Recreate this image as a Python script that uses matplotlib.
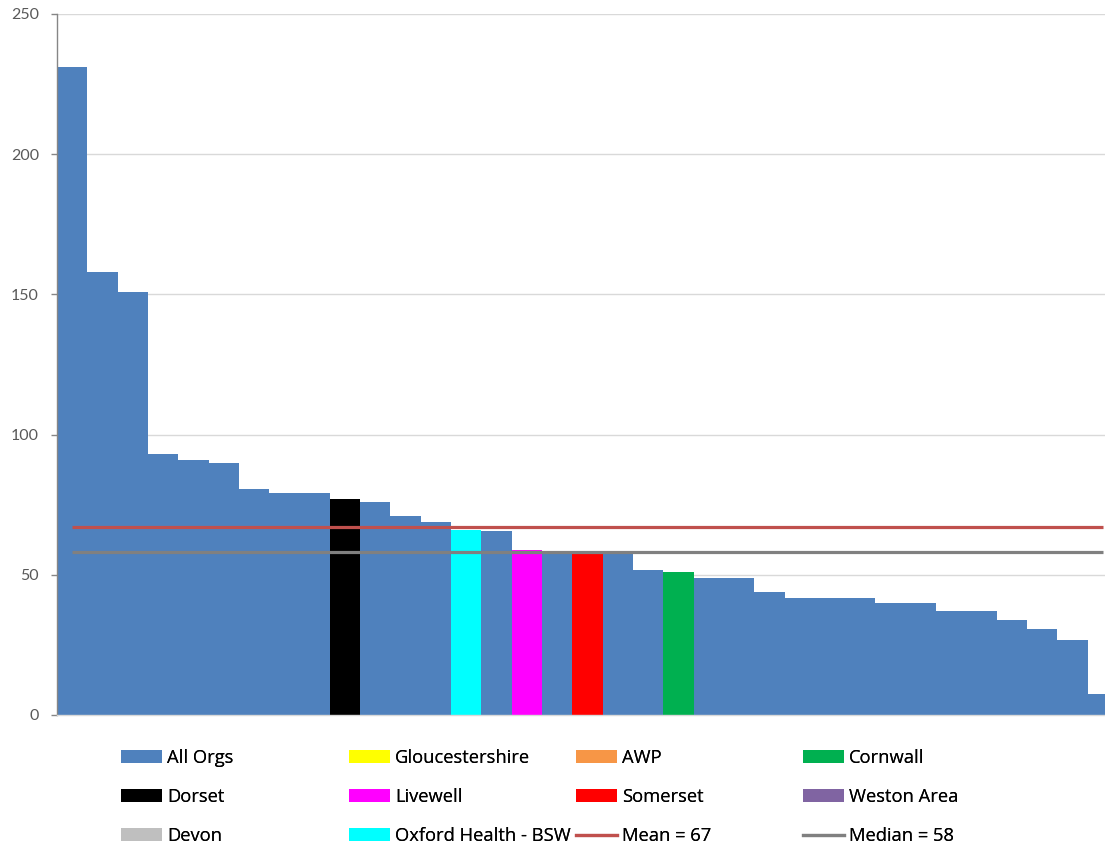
import matplotlib
matplotlib.use("Agg")
import matplotlib.pyplot as plt
from matplotlib.lines import Line2D
from matplotlib.patches import Patch

plt.rcParams['font.family'] = ['Lato', 'DejaVu Sans']

# Values per organisation, sorted high to low
values = [231, 158, 151, 93, 91, 90, 80.6, 79, 79, 77, 76, 71, 69, 66, 65.6,
          58.7, 58.5, 57.4, 57.4, 51.7, 51, 48.7, 48.7, 43.8, 41.8, 41.8, 41.8,
          39.9, 39.9, 37, 37, 33.9, 30.7, 26.7, 7.6]
# Which named organisation each bar belongs to (others are plain "All Orgs")
orgs = ["All Orgs"] * len(values)
orgs[9] = "Dorset"
orgs[13] = "Oxford Health - BSW"
orgs[15] = "Livewell"
orgs[17] = "Somerset"
orgs[20] = "Cornwall"

series = ["All Orgs", "Gloucestershire", "AWP", "Cornwall",
          "Dorset", "Livewell", "Somerset", "Weston Area",
          "Devon", "Oxford Health - BSW"]
series_colors = {
    "All Orgs": "#4F81BD",
    "Gloucestershire": "#FFFF00",
    "AWP": "#F79646",
    "Cornwall": "#00B050",
    "Dorset": "#000000",
    "Livewell": "#FF00FF",
    "Somerset": "#FF0000",
    "Weston Area": "#8064A2",
    "Devon": "#BFBFBF",
    "Oxford Health - BSW": "#00FFFF",
}
mean_value = 67
median_value = 58

W, H = 1105, 843
fig = plt.figure(figsize=(W / 100, H / 100), dpi=100)
ax_left, ax_right, ax_top, ax_bottom = 57, 1118, 14, 715
ax = fig.add_axes([ax_left / W, 1 - ax_bottom / H,
                   (ax_right - ax_left) / W, (ax_bottom - ax_top) / H])

n = len(values)
for name in series:
    xs = [i for i in range(n) if orgs[i] == name]
    ys = [values[i] for i in xs]
    if xs:
        ax.bar(xs, ys, width=1.0, color=series_colors[name], linewidth=0,
               zorder=2)

ax.plot([0, n - 1], [mean_value, mean_value], color="#C0504D",
        lw=2.3, solid_capstyle="butt", zorder=3)
ax.plot([0, n - 1], [median_value, median_value], color="#808080",
        lw=2.3, solid_capstyle="butt", zorder=3)

ax.set_xlim(-0.5, n - 0.5)
ax.set_ylim(0, 250)
ax.set_yticks([0, 50, 100, 150, 200, 250])
ax.set_xticks([])
ax.yaxis.grid(True, color="#D9D9D9", lw=1.0, zorder=0)
ax.set_axisbelow(True)
for s in ["top", "right"]:
    ax.spines[s].set_visible(False)
ax.spines["left"].set_color("#868686")
ax.spines["left"].set_linewidth(1.0)
ax.spines["bottom"].set_color("#D9D9D9")
ax.spines["bottom"].set_linewidth(1.0)
ax.tick_params(axis="y", direction="out", length=4, width=1.0, color="#868686",
               labelcolor="#595959", labelsize=11.5, pad=9)

# Legend laid out as four fixed-width columns
columns = [
    (121, ["All Orgs", "Dorset", "Devon"]),
    (349, ["Gloucestershire", "Livewell", "Oxford Health - BSW"]),
    (576, ["AWP", "Somerset", "mean"]),
    (803, ["Cornwall", "Weston Area", "median"]),
]
lfs = 13.2
for x0, names in columns:
    hs, ls = [], []
    for nm in names:
        if nm == "mean":
            hs.append(Line2D([], [], color="#C0504D", lw=2.3))
            ls.append(f"Mean = {mean_value}")
        elif nm == "median":
            hs.append(Line2D([], [], color="#808080", lw=2.3))
            ls.append(f"Median = {median_value}")
        else:
            hs.append(Patch(facecolor=series_colors[nm], linewidth=0))
            ls.append(nm)
    leg = fig.legend(hs, ls, loc="upper left",
                     bbox_to_anchor=(x0 / W, 1 - 749 / H),
                     frameon=False, borderpad=0, borderaxespad=0,
                     handlelength=41 / (lfs * 100 / 72),
                     handleheight=12 / (lfs * 100 / 72),
                     handletextpad=0.27, labelspacing=1.14,
                     prop={"family": ["Open Sans", "DejaVu Sans"], "size": lfs})
    fig.add_artist(leg)

fig.savefig("out.png", dpi=100)
